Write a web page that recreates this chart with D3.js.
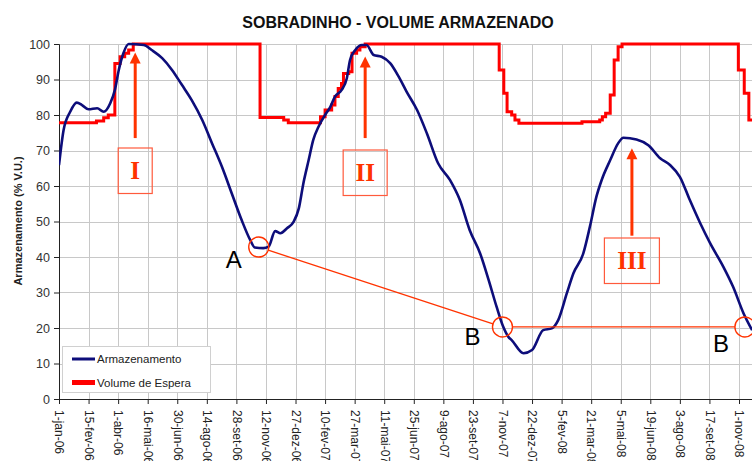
<!DOCTYPE html>
<html>
<head>
<meta charset="utf-8">
<script src="https://cdn.jsdelivr.net/npm/d3@7"></script>
<style>
  body { margin: 0; background: #fff; }
  svg { display: block; font-family: "Liberation Sans", Arial, sans-serif; }
</style>
</head>
<body>
<div id="chart"></div>
<script>
// Armazenamento (% V.U.) - blue line
const armDates = [
  "2006-01-01","2006-01-08","2006-01-18","2006-01-28","2006-02-05","2006-02-15","2006-02-28","2006-03-10",
  "2006-03-20","2006-03-27","2006-04-02","2006-04-09","2006-04-17","2006-05-10","2006-05-22","2006-06-07",
  "2006-06-22","2006-07-07","2006-07-22","2006-08-07","2006-08-22","2006-09-06","2006-09-21","2006-10-06",
  "2006-10-19","2006-10-26","2006-11-08","2006-11-16","2006-11-26","2006-12-04","2006-12-14","2006-12-24",
  "2007-01-01","2007-01-08","2007-01-16","2007-01-23","2007-01-31","2007-02-10","2007-02-18","2007-02-25",
  "2007-03-07","2007-03-15","2007-03-20","2007-03-28","2007-04-07","2007-04-14","2007-04-25","2007-05-07",
  "2007-05-20","2007-06-02","2007-06-14","2007-06-30","2007-07-15","2007-08-01","2007-08-19","2007-09-03",
  "2007-09-18","2007-10-04","2007-10-17","2007-10-29","2007-11-08","2007-11-16","2007-11-21","2007-12-09",
  "2007-12-22","2008-01-08","2008-01-21","2008-01-31","2008-02-13","2008-02-23","2008-03-09","2008-03-19",
  "2008-03-29","2008-04-06","2008-04-19","2008-05-01","2008-05-09","2008-05-29","2008-06-16","2008-07-04",
  "2008-07-19","2008-08-03","2008-08-18","2008-09-03","2008-09-18","2008-10-08","2008-10-23","2008-11-08",
  "2008-11-21"
];
const armValues = [
  65.9, 75.8, 80.9, 83.5, 82.8, 81.6, 81.9, 80.9,
  83.3, 87.0, 92.7, 97.4, 100, 99.7, 98.3, 96.0,
  92.7, 88.5, 84.2, 78.6, 72.0, 65.4, 57.9, 50.4,
  44.8, 42.7, 42.5, 42.9, 47.3, 46.7, 48.1, 49.9,
  53.7, 60.8, 67.3, 73.0, 76.7, 80.0, 82.3, 85.2,
  87.0, 90.3, 95.5, 98.3, 99.7, 99.7, 96.9, 96.4,
  94.6, 90.8, 86.6, 81.4, 74.8, 66.4, 61.7, 56.1,
  47.6, 41.0, 33.5, 26.0, 20.4, 17.5, 16.6, 12.9,
  13.8, 19.4, 19.9, 22.3, 29.8, 35.4, 41.0, 48.5,
  57.0, 61.7, 67.3, 72.0, 73.6, 73.1, 71.5, 67.8,
  65.9, 62.6, 56.1, 49.5, 43.9, 37.3, 31.6, 24.1,
  19.4
];

// Volume de Espera - red step line
const espDates = [
  "2006-01-01","2006-02-27","2006-03-10","2006-03-17","2006-03-27","2006-04-04","2006-04-11","2006-04-17",
  "2006-04-24","2006-11-03","2006-12-09","2006-12-16","2007-02-03","2007-02-10","2007-02-20","2007-02-25",
  "2007-03-02","2007-03-07","2007-03-10","2007-03-18","2007-03-23","2007-03-30","2007-04-04","2007-04-12",
  "2007-11-02","2007-11-09","2007-11-14","2007-11-21","2007-11-26","2007-12-02","2008-03-07","2008-04-03",
  "2008-04-07","2008-04-12","2008-04-19","2008-04-25","2008-05-01","2008-05-07","2008-10-31","2008-11-09",
  "2008-11-16","2008-11-26"
];
const espValues = [
  77.8, 78.3, 79.2, 80.0, 94.5, 96.4, 97.4, 98.3,
  100, 79.3, 78.6, 77.8, 79.5, 81.4, 82.8, 85.2,
  87.5, 88.9, 91.7, 92.2, 97.4, 98.3, 99.2, 100,
  92.7, 86.1, 80.9, 80.0, 78.6, 77.7, 78.1, 78.6,
  79.5, 80.5, 85.6, 95.5, 99.2, 100, 92.7, 86.1,
  78.6, 78.6
];

const yTicks = [0, 10, 20, 30, 40, 50, 60, 70, 80, 90, 100];
const tickStepDays = 45;
const tickCount = 24;

// annotations: circles A, B, B and arrows I, II, III
const circlePoints = [
  { label: "A", date: "2006-11-01", value: 42.8, dx: -25, dy: 21 },
  { label: "B", date: "2007-11-07", value: 20.3, dx: -30, dy: 18 },
  { label: "B", date: "2008-11-10", value: 20.3, dx: -24, dy: 25 }
];
const arrows = [
  { label: "I",   date: "2006-04-27", tip: 97.6, base: 73.5, boxW: 34, boxTop: 148 },
  { label: "II",  date: "2007-04-12", tip: 96.5, base: 73.5, boxW: 44, boxTop: 150 },
  { label: "III", date: "2008-05-22", tip: 70.6, base: 46.0, boxW: 55, boxTop: 238 }
];

const W = 752, H = 461;
const margin = { top: 44, left: 59, bottom: 399 };
const plotRight = 760;
const annoColor = "#ff3300";

const parse = d3.utcParse("%Y-%m-%d");
const start = parse("2006-01-01");
const tickDates = d3.range(tickCount).map(i => d3.utcDay.offset(start, i * tickStepDays));

const pt = d3.timeFormatLocale({
  dateTime: "%d/%m/%Y", date: "%d/%m/%Y", time: "%H:%M:%S", periods: ["AM", "PM"],
  days: ["domingo","segunda","terça","quarta","quinta","sexta","sábado"],
  shortDays: ["dom","seg","ter","qua","qui","sex","sáb"],
  months: ["janeiro","fevereiro","março","abril","maio","junho","julho","agosto","setembro","outubro","novembro","dezembro"],
  shortMonths: ["jan","fev","mar","abr","mai","jun","jul","ago","set","out","nov","dez"]
});
const fmt = pt.utcFormat("%-d-%b-%y");

const x = d3.scaleUtc()
  .domain([start, tickDates[tickDates.length - 1]])
  .range([margin.left, 739]);
const y = d3.scaleLinear().domain([0, 100]).range([margin.bottom, margin.top]);

const svg = d3.select("#chart").append("svg")
  .attr("width", W)
  .attr("height", H);

svg.append("defs").append("clipPath").attr("id", "plotclip")
  .append("rect")
  .attr("x", margin.left).attr("y", margin.top - 4)
  .attr("width", plotRight - margin.left).attr("height", margin.bottom - margin.top + 8);

// title
svg.append("text")
  .attr("x", 398).attr("y", 28)
  .attr("text-anchor", "middle")
  .style("font-size", "16px").style("font-weight", "bold").style("fill", "#111")
  .text("SOBRADINHO - VOLUME ARMAZENADO");

// grid
const grid = svg.append("g").attr("stroke", "#c8c8c8").attr("stroke-width", 1);
grid.selectAll(".gx").data(tickDates.slice(1)).enter().append("line")
  .attr("x1", d => Math.round(x(d)) + 0.5).attr("x2", d => Math.round(x(d)) + 0.5)
  .attr("y1", margin.top).attr("y2", margin.bottom);
grid.selectAll(".gy").data(yTicks.slice(1)).enter().append("line")
  .attr("x1", margin.left).attr("x2", plotRight)
  .attr("y1", d => Math.round(y(d)) + 0.5).attr("y2", d => Math.round(y(d)) + 0.5);

// axes
const yAxis = svg.append("g")
  .attr("transform", `translate(${margin.left},0)`)
  .call(d3.axisLeft(y).tickValues(yTicks).tickSize(5).tickPadding(4).tickFormat(d3.format("d")));
yAxis.selectAll("text").style("font-size", "12.5px").style("fill", "#333");
yAxis.select(".domain").attr("stroke", "#222");
yAxis.selectAll(".tick line").attr("stroke", "#222");

const xAxis = svg.append("g")
  .attr("transform", `translate(0,${margin.bottom})`)
  .call(d3.axisBottom(x).tickValues(tickDates).tickSize(5).tickFormat(fmt));
xAxis.select(".domain").attr("d", `M${margin.left},0.5H${plotRight}`).attr("stroke", "#222");
xAxis.selectAll(".tick line").attr("stroke", "#222");
xAxis.selectAll("text")
  .attr("transform", "rotate(90)")
  .attr("x", 11).attr("y", 0).attr("dy", "0.35em")
  .style("text-anchor", "start")
  .style("font-size", "12px").style("fill", "#222");

// y title
svg.append("text")
  .attr("transform", "translate(22,221) rotate(-90)")
  .attr("text-anchor", "middle")
  .style("font-size", "11px").style("font-weight", "bold").style("fill", "#222")
  .text("Armazenamento (% V.U.)");

// series
const arm = armDates.map((d, i) => ({ date: parse(d), value: armValues[i] }));
const esp = espDates.map((d, i) => ({ date: parse(d), value: espValues[i] }));

const plot = svg.append("g").attr("clip-path", "url(#plotclip)");

plot.append("path")
  .datum(esp)
  .attr("fill", "none")
  .attr("stroke", "#ff0000")
  .attr("stroke-width", 3)
  .attr("d", d3.line().x(d => x(d.date)).y(d => y(d.value)).curve(d3.curveStepAfter));

plot.append("path")
  .datum(arm)
  .attr("fill", "none")
  .attr("stroke", "#0d0d7a")
  .attr("stroke-width", 2.6)
  .attr("stroke-linejoin", "round")
  .attr("d", d3.line().x(d => x(d.date)).y(d => y(d.value)).curve(d3.curveMonotoneX));

// legend
const legend = svg.append("g");
legend.append("rect")
  .attr("x", 62.5).attr("y", 346.5).attr("width", 148).attr("height", 46)
  .attr("fill", "#fff").attr("stroke", "#d0d0d0");
const legItems = [
  { name: "Armazenamento", color: "#0d0d7a", w: 3 },
  { name: "Volume de Espera", color: "#ff0000", w: 5 }
];
legItems.forEach((it, i) => {
  const ly = 359 + i * 23.5;
  legend.append("line")
    .attr("x1", 72).attr("x2", 95).attr("y1", ly).attr("y2", ly)
    .attr("stroke", it.color).attr("stroke-width", it.w);
  legend.append("text")
    .attr("x", 97).attr("y", ly).attr("dy", "0.35em")
    .style("font-size", "11.5px").style("fill", "#222")
    .text(it.name);
});

// annotations
const anno = svg.append("g");
const R = 10;
const cpx = circlePoints.map(c => ({ ...c, cx: x(parse(c.date)), cy: y(c.value) }));

function edgeLine(a, b) {
  const dx = b.cx - a.cx, dy = b.cy - a.cy, len = Math.hypot(dx, dy);
  anno.append("line")
    .attr("x1", a.cx + dx / len * R).attr("y1", a.cy + dy / len * R)
    .attr("x2", b.cx - dx / len * R).attr("y2", b.cy - dy / len * R)
    .attr("stroke", annoColor).attr("stroke-width", 1.3);
}
edgeLine(cpx[0], cpx[1]);
edgeLine(cpx[1], cpx[2]);

cpx.forEach(c => {
  anno.append("circle")
    .attr("cx", c.cx).attr("cy", c.cy).attr("r", R)
    .attr("fill", "none").attr("stroke", annoColor).attr("stroke-width", 1.4);
  anno.append("text")
    .attr("x", c.cx + c.dx).attr("y", c.cy + c.dy)
    .attr("text-anchor", "middle")
    .style("font-size", "24px").style("fill", "#000")
    .text(c.label);
});

arrows.forEach(a => {
  const ax = x(parse(a.date));
  const tipY = y(a.tip), baseY = y(a.base);
  anno.append("line")
    .attr("x1", ax).attr("x2", ax).attr("y1", baseY).attr("y2", tipY + 9)
    .attr("stroke", annoColor).attr("stroke-width", 3);
  anno.append("path")
    .attr("d", `M${ax},${tipY}L${ax - 5.5},${tipY + 11}L${ax + 5.5},${tipY + 11}Z`)
    .attr("fill", annoColor);
  anno.append("rect")
    .attr("x", ax - a.boxW / 2).attr("y", a.boxTop)
    .attr("width", a.boxW).attr("height", 45.5)
    .attr("fill", "none").attr("stroke", "#ff5a3c").attr("stroke-width", 1.2);
  anno.append("text")
    .attr("x", ax).attr("y", a.boxTop + 31)
    .attr("text-anchor", "middle")
    .style("font-family", "'Liberation Serif', 'Times New Roman', serif")
    .style("font-size", "25px").style("font-weight", "bold").style("fill", annoColor)
    .text(a.label);
});
</script>
</body>
</html>
